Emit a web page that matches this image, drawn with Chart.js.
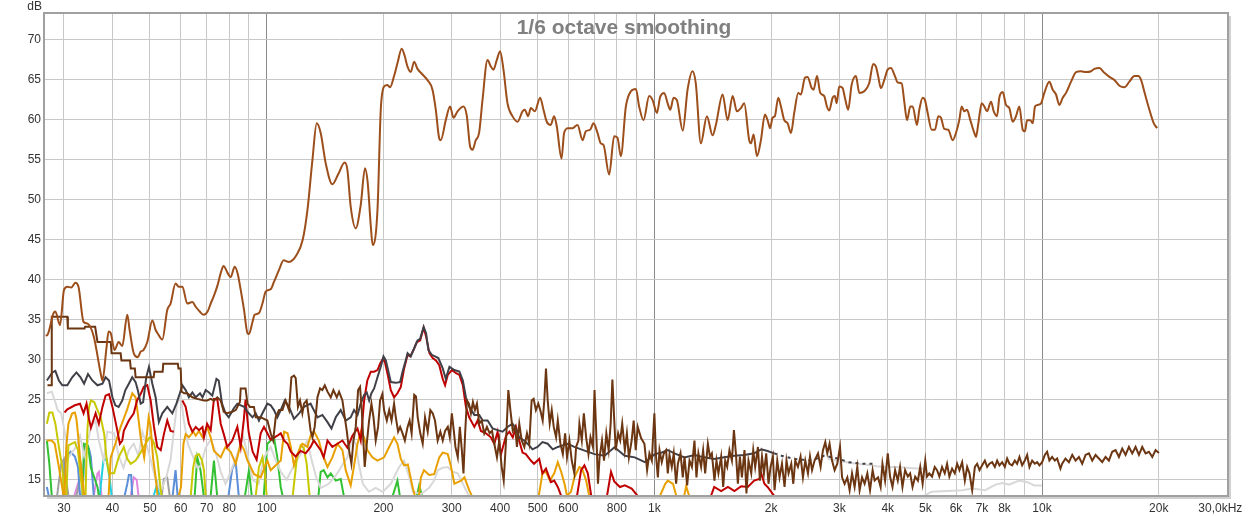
<!DOCTYPE html>
<html><head><meta charset="utf-8">
<script src="https://cdn.jsdelivr.net/npm/chart.js@4.4.0/dist/chart.umd.min.js"></script>
<style>html,body{margin:0;padding:0;background:#fff;}#wrap{width:1249px;height:516px;position:relative;}</style>
</head><body><div id="wrap"><canvas id="c"></canvas></div>
<script>
const xTickValues = [30,40,50,60,70,80,90,100,200,300,400,500,600,700,800,900,1000,2000,3000,4000,5000,6000,7000,8000,9000,10000,20000,30000];
const xTickLabels = ["30","40","50","60","70","80","","100","200","300","400","500","600","","800","","1k","2k","3k","4k","5k","6k","7k","8k","","10k","20k","30,0kHz    "];
const yTickValues = [15,20,25,30,35,40,45,50,55,60,65,70];
const titleText = "1/6 octave smoothing";

// [Hz, dB]
const frResponse = [[26.9,33.0],[27.2,33.1],[28.2,35.8],[28.5,36.0],[29.3,34.3],[30.0,38.7],[30.6,39.1],[31.3,39.0],[32.1,39.6],[32.7,39.1],[33.7,34.7],[34.5,34.5],[35.8,32.9],[37.3,28.3],[37.7,27.4],[38.6,31.4],[39.1,33.5],[39.6,33.3],[40.5,31.2],[41.5,32.2],[42.4,31.7],[43.7,35.6],[44.3,33.7],[45.4,30.8],[46.5,30.3],[47.3,31.0],[48.1,31.2],[49.2,32.2],[50.7,34.9],[51.7,33.7],[52.3,33.3],[53.8,32.5],[55.4,36.2],[56.5,37.0],[58.2,39.5],[59.3,39.1],[60.6,39.1],[62.4,37.0],[64.3,37.2],[65.6,36.6],[67.2,36.0],[68.8,35.6],[70.4,36.0],[71.7,37.0],[73.0,37.9],[74.7,39.3],[76.1,40.8],[77.4,41.7],[79.3,40.8],[80.7,40.3],[82.7,41.6],[84.2,40.7],[85.7,38.7],[87.4,36.2],[89.2,33.3],[90.0,33.2],[91.9,34.7],[93.1,35.6],[95.5,35.8],[97.5,37.0],[99.4,38.5],[102.4,38.8],[104.4,39.7],[107.6,41.2],[110.6,42.4],[114.0,42.2],[119.5,43.1],[123.9,45.0],[127.4,48.7],[131.2,54.9],[134.6,59.5],[137.8,58.3],[142.0,54.5],[147.7,51.9],[152.8,53.1],[158.9,54.6],[161.5,53.7],[164.7,49.1],[169.7,46.4],[174.8,49.3],[179.3,53.9],[182.2,52.1],[185.5,46.8],[187.7,44.3],[193.1,48.7],[196.9,61.2],[200.8,64.1],[204.9,64.3],[208.1,64.0],[213.1,65.4],[217.4,67.0],[223.0,68.8],[227.0,67.9],[230.7,66.6],[235.3,65.9],[240.0,67.2],[244.9,66.3],[252.3,65.6],[259.9,64.9],[267.7,63.7],[273.0,61.2],[278.4,57.7],[281.2,57.4],[289.7,59.9],[297.2,61.6],[303.3,60.2],[310.6,61.0],[321.9,61.6],[328.3,60.4],[334.7,56.6],[339.5,56.2],[346.2,57.4],[353.1,58.3],[360.3,62.4],[371.2,67.4],[378.6,66.6],[384.6,66.2],[392.2,67.4],[400.0,68.5],[408.1,66.2],[418.0,62.0],[430.5,60.4],[443.6,59.7],[457.0,61.0],[463.3,61.2],[472.4,60.4],[480.1,61.4],[491.6,61.0],[507.4,62.7],[517.6,61.2],[527.8,59.7],[540.5,59.3],[551.2,60.4],[560.2,59.1],[576.1,55.1],[585.0,58.3],[599.1,58.9],[615.0,58.9],[633.6,59.3],[652.7,57.4],[665.6,58.5],[682.8,58.7],[696.7,59.5],[713.5,58.3],[727.6,57.0],[739.4,56.8],[764.5,53.1],[787.6,57.9],[803.5,57.7],[819.4,55.4],[844.3,61.6],[869.8,63.5],[896.0,63.8],[913.7,61.6],[937.6,59.9],[969.6,62.9],[989.5,62.4],[1015,60.8],[1035,62.8],[1060,63.3],[1082,62.0],[1099,61.2],[1121,62.7],[1143,62.4],[1184,58.6],[1218,63.7],[1254,66.0],[1279,64.5],[1318,57.0],[1366,60.4],[1413,58.0],[1441,59.3],[1500,63.1],[1545,59.9],[1592,62.9],[1633,61.0],[1672,61.4],[1705,62.0],[1756,57.4],[1774,57.0],[1803,58.1],[1839,55.4],[1883,57.4],[1928,60.6],[1959,59.9],[1989,58.9],[2018,60.2],[2046,60.4],[2087,62.7],[2121,61.6],[2163,59.9],[2207,59.5],[2251,58.3],[2295,60.8],[2350,63.3],[2388,63.1],[2445,65.2],[2485,65.3],[2545,63.9],[2575,63.7],[2627,65.4],[2679,63.3],[2743,62.9],[2787,61.6],[2825,61.1],[2883,62.7],[2922,62.9],[2952,62.0],[2998,64.1],[3060,63.9],[3101,62.7],[3162,61.2],[3227,64.3],[3311,65.4],[3377,63.3],[3477,63.5],[3582,64.5],[3668,66.9],[3727,66.6],[3778,65.4],[3840,63.9],[3917,64.9],[3997,66.2],[4076,66.4],[4174,65.4],[4242,64.6],[4344,64.5],[4412,62.2],[4484,59.9],[4573,61.6],[4638,61.6],[4758,59.3],[4824,61.2],[4922,62.7],[4990,62.4],[5070,60.8],[5191,58.7],[5295,58.7],[5400,60.4],[5487,60.2],[5596,58.8],[5730,58.7],[5882,57.4],[5998,58.3],[6117,59.9],[6205,61.6],[6301,61.0],[6404,61.2],[6531,59.9],[6688,58.3],[6756,57.8],[6850,59.5],[6989,62.0],[7098,61.6],[7213,61.0],[7386,62.2],[7506,61.0],[7654,60.4],[7759,62.7],[7918,63.4],[8074,61.8],[8234,61.4],[8402,59.7],[8568,60.4],[8738,61.6],[8917,58.7],[9039,58.5],[9147,59.9],[9328,59.9],[9462,59.5],[9592,61.6],[9748,61.8],[9940,62.0],[10137,63.3],[10442,64.7],[10656,63.7],[10866,63.1],[11081,61.8],[11308,62.7],[11532,63.3],[11880,64.7],[12239,65.9],[12608,66.0],[12988,65.9],[13383,66.0],[13646,66.3],[14058,66.4],[14482,65.8],[14918,65.3],[15368,64.9],[15831,64.2],[16309,64.0],[16800,64.7],[17307,65.4],[17723,65.4],[18011,64.9],[18443,63.1],[18920,61.2],[19424,59.5],[19808,58.9]];

const noiseFloor = [[27.2,26.8],[27.8,26.8],[27.9,35.35],[30.6,35.35],[30.7,33.9],[33.9,33.9],[34.0,34.1],[36.1,34.1],[36.6,32.2],[39.6,32.2],[39.8,30.8],[42.0,30.8],[42.2,29.9],[44.4,29.9],[44.6,28.9],[45.7,28.9],[45.9,27.8],[51.1,27.8],[51.3,28.5],[53.9,28.5],[54.1,29.5],[59.0,29.5],[59.2,28.9],[60.0,28.9],[60.3,26.0],[61.3,25.8],[62.4,25.8],[64.3,25.3],[66.2,25.1],[68.9,24.9],[70.2,24.9],[71.7,25.1],[73.1,24.9],[74.6,25.3],[76.1,24.9],[77.5,23.5],[79.1,23.3],[81.5,23.5],[83.2,23.7],[85.3,24.7],[85.7,26.4],[88.2,26.4],[89.2,24.5],[90.5,24.1],[92.7,24.1],[93.7,22.8],[96.5,22.8],[98.4,22.6],[100.4,22.4],[102.4,20.8],[103.9,19.9],[105.5,22.8],[107.6,23.7],[109.8,23.7],[111.9,24.9],[114.2,23.7],[115.8,27.8],[117.6,28.0],[118.8,27.7],[120.4,24.1],[121.9,24.9],[123.6,23.3],[124.8,24.5],[126.8,24.9],[128.5,22.8],[129.8,21.1],[131.2,20.3],[133.0,21.6],[135.2,25.3],[137.3,26.4],[139.2,26.2],[141.2,26.8],[143.5,26.0],[146.3,25.3],[148.6,26.2],[151.6,25.3],[153.7,26.0],[156.8,24.9],[159.0,22.8],[160.9,21.1],[163.1,18.7],[165.4,17.0],[167.4,19.9],[169.7,21.6],[172.1,26.2],[174.1,26.6],[175.9,23.7],[177.7,19.5],[179.0,16.6],[181.2,19.5],[183.7,22.4],[186.3,24.5],[188.6,22.8],[191.1,19.9],[193.8,21.6],[196.1,24.9],[198.8,25.7],[200.8,23.7],[204.1,22.4],[207.0,23.7],[209.9,22.4],[213.1,24.5],[215.3,22.8],[218.3,21.0],[220.9,21.6],[224.1,20.8],[227.2,19.9],[230.9,21.6],[233.7,22.4],[236.5,20.8],[240.2,25.6],[242.7,25.4],[245.2,22.8],[249.0,20.8],[252.6,19.5],[256.1,22.8],[260.2,21.0],[264.3,23.7],[268.0,23.3],[271.7,22.4],[276.1,19.9],[280.5,21.0],[284.5,19.9],[288.5,21.1],[293.2,21.6],[296.7,20.3],[300.3,23.3],[303.9,21.1],[306.8,19.1],[311.1,17.8],[314.9,21.6],[318.7,18.7],[321.8,15.8],[325.0,20.8],[328.4,24.9],[332.4,24.5],[336.4,23.3],[340.4,24.7],[344.5,23.7],[348.6,24.5],[353.4,22.0],[358.5,22.4],[364.1,20.8],[369.9,21.6],[375.9,20.8],[381.2,21.1],[386.5,19.5],[392.6,17.8],[398.0,19.9],[403.8,16.6],[408.7,14.9],[414.4,19.9],[420.1,26.2],[425.2,23.7],[431.3,21.1],[437.3,21.6],[442.1,19.1],[448.3,22.0],[454.8,19.9],[461.9,19.1],[469.2,20.8],[475.7,19.5],[482.4,24.9],[488.1,25.1],[494.8,23.7],[501.8,24.5],[507.8,23.7],[515.1,22.4],[520.1,24.9],[525.3,28.9],[530.7,24.9],[537.1,22.0],[543.6,23.7],[550.1,21.6],[557.8,20.3],[563.5,22.4],[572.4,19.5],[580.6,18.2],[588.6,20.8],[595.2,17.8],[603.7,19.9],[612.2,17.4],[621.8,15.8],[628.2,19.1],[636.9,19.9],[640.7,22.0],[649.9,19.9],[657.7,23.3],[666.9,20.3],[676.1,18.2],[684.3,20.3],[694.2,19.1],[700.9,26.2],[709.4,19.9],[715.4,14.5],[722.3,17.8],[732.7,19.9],[741.5,17.4],[751.8,20.8],[762.2,18.7],[771.4,22.0],[779.3,27.5],[787.3,22.8],[795.0,18.7],[806.5,20.8],[816.3,19.9],[826.2,22.0],[839.2,18.7],[849.4,20.8],[859.6,17.8],[873.8,19.9],[884.4,22.4],[895.1,18.7],[905.9,21.6],[924,20.2],[942.6,19.5],[957.8,16.2],[971,18.3],[985,17.4],[1000,23.3],[1010,17.9],[1021,15.3],[1031,18.7],[1045,17.2],[1058,18.3],[1072,18.7],[1083,15.8],[1094,18.1],[1109,16.6],[1122,18.3],[1138,14.5],[1150,17.0],[1168,18.3],[1184,15.3],[1196,17.9],[1215,14.3],[1232,17.4],[1250,16.6],[1269,19.9],[1284,15.3],[1299,18.3],[1320,16.6],[1336,18.7],[1352,15.8],[1374,19.5],[1391,17.9],[1407,18.3],[1429,14.9],[1446,17.4],[1463,15.8],[1487,17.9],[1505,14.1],[1523,17.4],[1541,16.6],[1562,18.7],[1585,17.4],[1604,21.2],[1623,18.3],[1642,14.5],[1662,17.9],[1682,15.3],[1708,18.7],[1728,13.3],[1749,17.4],[1778,15.8],[1799,18.7],[1820,16.6],[1850,19.1],[1872,14.9],[1895,17.9],[1917,15.8],[1943,18.3],[1970,14.5],[1994,16.6],[2022,17.9],[2042,13.7],[2075,17.4],[2103,15.3],[2134,17.0],[2167,14.1],[2192,17.4],[2219,15.8],[2255,17.0],[2282,14.5],[2309,17.4],[2346,16.6],[2383,17.9],[2417,15.3],[2451,17.4],[2490,15.8],[2520,17.9],[2551,16.2],[2590,17.4],[2643,18.3],[2684,16.6],[2722,18.7],[2760,19.7],[2793,18.3],[2831,19.5],[2873,17.4],[2917,16.2],[2964,17.0],[3012,19.1],[3049,15.3],[3095,14.5],[3146,15.3],[3189,13.7],[3235,15.8],[3285,14.1],[3338,16.6],[3384,13.7],[3434,15.3],[3486,14.5],[3543,15.8],[3600,13.7],[3656,16.2],[3700,14.9],[3776,15.3],[3834,14.1],[3876,17.0],[3937,14.9],[4000,18.3],[4055,15.4],[4114,14.1],[4178,16.2],[4245,14.9],[4303,16.6],[4365,14.1],[4434,16.2],[4506,15.4],[4569,15.8],[4634,14.1],[4707,15.4],[4784,14.9],[4850,16.6],[4920,14.5],[4998,17.4],[5049,15.4],[5119,15.8],[5203,15.4],[5287,16.6],[5360,16.2],[5434,15.4],[5522,16.6],[5611,15.8],[5689,17.0],[5767,15.4],[5861,16.4],[5956,15.8],[6039,17.0],[6123,16.2],[6222,17.2],[6322,14.9],[6410,16.6],[6499,15.8],[6604,13.7],[6711,16.6],[6803,17.0],[6897,16.2],[7008,16.8],[7121,17.4],[7219,16.6],[7319,17.0],[7436,17.2],[7556,16.6],[7660,17.4],[7765,16.8],[7891,17.2],[8018,16.6],[8128,17.65],[8240,17.0],[8373,16.8],[8508,17.4],[8625,17.0],[8744,17.85],[8885,16.8],[9028,17.4],[9153,18.1],[9279,16.6],[9429,17.4],[9581,17.0],[9714,17.2],[9847,16.8],[10006,17.2],[10167,18.1],[10306,18.5],[10448,17.4],[10617,17.85],[10789,17.4],[10938,17.65],[11155,16.4],[11269,17.0],[11494,17.65],[11731,17.2],[11965,18.1],[12204,17.4],[12449,17.85],[12697,17.0],[12950,18.1],[13210,18.3],[13474,17.4],[13743,18.1],[14019,17.65],[14298,17.2],[14584,17.85],[14875,17.4],[15173,18.5],[15476,18.7],[15787,17.85],[16102,18.9],[16424,18.1],[16754,19.1],[17088,18.3],[17430,19.1],[17780,18.1],[18135,19.1],[18498,18.3],[18870,18.5],[19246,17.85],[19631,18.7],[20026,18.35]];

const thd = [[27.1,27.4],[28.0,28.4],[28.5,28.6],[29.1,27.4],[29.7,26.8],[30.6,26.8],[31.5,27.8],[32.3,28.4],[33.1,27.8],[33.8,27.0],[34.6,28.2],[35.5,27.4],[36.6,26.8],[37.7,27.0],[38.4,27.8],[39.2,27.4],[40.0,25.3],[40.7,24.3],[41.5,24.1],[42.4,24.9],[43.2,26.2],[44.1,27.0],[45.0,27.8],[45.9,27.2],[46.5,26.2],[47.3,24.5],[48.0,24.7],[48.9,27.8],[49.7,29.1],[50.7,27.0],[51.7,25.3],[52.7,22.2],[53.8,23.3],[55.4,24.1],[57.1,23.3],[58.5,24.5],[59.7,25.8],[60.6,26.8],[61.8,26.2],[63.0,25.3],[64.3,25.9],[65.6,25.3],[67.3,25.8],[68.3,25.3],[69.6,26.2],[71.0,25.9],[72.4,25.5],[74.2,27.6],[75.2,27.4],[76.7,24.5],[78.3,23.3],[79.8,22.8],[82.2,23.9],[84.0,24.5],[85.7,24.3],[87.5,24.1],[89.2,23.5],[91.9,22.8],[93.7,23.3],[95.5,22.4],[97.5,23.3],[100.4,24.5],[102.4,24.3],[104.4,23.7],[106.5,22.8],[108.7,23.7],[111.3,24.9],[114.2,24.1],[117.6,22.6],[121.2,23.3],[124.8,24.1],[129.8,24.5],[132.3,23.7],[135.2,22.8],[139.2,23.1],[143.5,22.2],[146.9,21.4],[150.7,22.8],[155.2,23.7],[160.0,22.4],[164.7,22.8],[168.0,23.7],[171.5,23.1],[174.8,24.5],[178.4,25.6],[181.2,25.9],[183.8,24.9],[186.3,25.8],[189.3,26.4],[193.1,27.8],[196.9,29.1],[200.1,30.4],[202.9,29.9],[205.6,28.7],[209.0,27.2],[215.3,27.1],[220.9,27.2],[224.1,28.5],[227.2,29.5],[230.9,30.8],[235.3,30.4],[240.0,31.4],[244.9,32.4],[248.8,32.6],[254.0,34.1],[257.7,33.3],[261.3,31.2],[266.6,30.6],[271.7,30.4],[277.2,30.2],[284.5,28.9],[289.7,27.6],[296.1,29.1],[304.9,28.7],[314.1,28.5],[320.6,27.4],[326.5,25.3],[332.9,24.1],[343.3,23.1],[353.4,23.1],[360.6,22.4],[371.4,22.4],[382.6,21.4],[394.1,21.2],[405.9,21.0],[418.1,21.6],[430.5,22.0],[439.0,21.4],[447.8,20.3],[461.4,19.9],[475.3,19.3],[484.8,18.8],[499.4,19.1],[514.4,19.7],[530.7,19.5],[546.9,18.8],[563.5,19.1],[580.6,19.3],[597.6,19.5],[621.7,19.1],[647.2,18.8],[700.9,18.2],[744,18.0],[789,19.05],[839,18.0],[890,17.8],[945,17.2],[1003,18.2],[1046,18.4],[1083,18.7],[1127,18.3],[1196,17.8],[1269,18.1],[1345,17.8],[1427,17.6],[1514,17.8],[1609,18.0],[1705,18.1],[1809,18.3],[1887,18.8],[1959,18.6],[2037,18.3],[2128,18.0],[2295,17.6],[2545,17.4],[2743,18.0],[2976,17.65],[3170,17.2],[3444,17.0],[3654,17.0]];

const h2 = [[30.1,23.4],[30.6,23.8],[32.0,24.3],[33.0,24.5],[33.7,23.3],[34.3,24.5],[34.8,22.6],[35.2,21.5],[36.2,23.3],[36.9,22.0],[37.7,24.1],[38.4,25.5],[39.2,25.7],[40.0,24.1],[41.2,21.1],[41.8,19.5],[42.4,19.9],[42.8,21.1],[44.1,22.4],[45.4,23.3],[46.3,24.9],[47.3,25.7],[48.2,26.6],[49.2,26.8],[50.2,24.9],[51.2,21.6],[52.2,19.1],[53.3,18.7],[54.3,20.7],[55.4,22.4],[56.5,21.1],[57.6,21.0],[59,null],[60.6,24.9],[61.8,24.1],[63.0,22.0],[64.3,21.0],[65.6,21.6],[66.9,21.2],[68.3,21.6],[68.9,20.3],[70.2,22.0],[71.7,21.2],[73.1,25.1],[74.6,25.0],[76.1,22.0],[77.5,20.7],[79.1,19.1],[81.5,19.9],[84.0,21.6],[85.7,19.1],[87.3,22.5],[88.2,25.0],[89.8,21.0],[92.0,18.5],[94.2,17.5],[96.5,20.8],[98.4,21.6],[100.4,20.8],[102.4,20.0],[106.5,20.5],[108.7,20.8],[110.9,19.9],[113.2,19.5],[115.4,18.5],[118.8,17.9],[122.3,18.6],[126.1,18.3],[129.8,19.1],[132.3,19.9],[137.8,18.7],[140.3,17.8],[143.5,19.9],[147.7,19.1],[152.2,19.5],[156.8,19.9],[161.5,19.0],[166.4,20.5],[171.5,21.4],[174.8,19.9],[178.4,24.9],[181.8,27.4],[185.6,28.5],[189.3,28.5],[193.1,28.7],[196.1,29.5],[199.3,30.1],[201.8,29.7],[205.0,28.2],[209.0,26.2],[213.1,25.3],[217.4,25.8],[221.8,26.6],[226.2,28.9],[230.9,30.6],[234.5,30.4],[239.2,31.2],[244.0,32.2],[248.9,32.4],[254.0,34.0],[257.7,32.9],[262.9,30.8],[268.0,30.2],[273.3,29.9],[278.7,29.3],[284.5,27.6],[288.5,26.8],[293.2,28.1],[300.3,28.7],[308.0,28.3],[314.1,28.1],[320.6,26.8],[326.5,24.1],[332.9,22.8],[343.3,21.6],[350.0,22.4],[356.9,21.1],[367.7,20.8],[378.6,20.3],[386.5,19.5],[394.1,21.0],[402.1,18.2],[414.4,20.5],[422.6,21.0],[431.3,20.3],[439.6,21.6],[448.1,19.9],[457.0,18.4],[466.0,18.2],[480.1,17.4],[489.2,17.0],[504.6,17.6],[514.4,15.8],[525.3,16.4],[541.0,14.7],[551.7,14.9],[563.5,14.1],[574.9,13.0],[600,null],[631.7,13.0],[647.2,16.2],[660.0,16.8],[673.5,15.8],[687.3,13.0],[720,null],[755,13.0],[773,16.0],[788,14.8],[815,14.1],[839,14.3],[874,13.9],[905,13.0],[1100,null],[1400,13.0],[1427,14.1],[1487,13.6],[1548,14.1],[1609,13.6],[1675,14.2],[1742,14.1],[1809,14.9],[1865,15.1],[1887,15.8],[1922,14.5],[1959,14.1],[2037,13.0]];

const h3 = [[27.1,19.9],[27.9,19.9],[28.4,19.5],[29.1,16.6],[29.7,14.0],[29.9,13.0],[30.1,13.2],[30.4,19.0],[30.8,22.0],[31.5,23.3],[32.0,23.4],[32.3,22.6],[32.6,20.7],[33.0,17.8],[33.6,14.5],[33.8,13.0],[36,null],[39.1,13.0],[39.6,17.8],[40.7,19.5],[42.0,21.6],[43.6,23.7],[45.0,25.8],[45.9,25.3],[46.5,23.3],[47.3,20.3],[48.3,17.8],[49.2,21.1],[49.6,22.8],[50.2,21.6],[50.9,17.8],[51.7,15.3],[52.3,13.0],[55,null],[59.3,13.0],[60.1,14.1],[61.0,19.5],[61.8,20.7],[63.0,20.3],[64.7,21.0],[65.6,20.5],[66.9,21.1],[68.3,20.3],[70.2,21.6],[71.7,20.3],[73.1,18.6],[76.1,17.8],[78.3,19.1],[80.7,18.5],[83.2,17.0],[85.7,19.5],[87.5,18.7],[89.2,17.4],[92.8,15.7],[96.5,15.3],[100.4,17.4],[102.4,16.2],[108.7,17.4],[110.9,21.0],[113.2,20.8],[115.4,19.1],[117.6,16.8],[119.9,18.2],[123.6,19.5],[127.3,19.1],[129.8,20.5],[132.3,21.1],[136.3,19.9],[139.2,18.2],[143.5,16.6],[147.7,17.8],[152.2,19.5],[156.8,18.7],[159.9,16.2],[164.7,14.3],[167.7,16.5],[171.5,19.5],[174.8,21.0],[178.4,20.3],[181.8,18.7],[187.3,17.8],[193.1,17.4],[200.8,17.8],[207.0,19.1],[213.1,20.3],[217.4,19.5],[221.8,17.6],[226.2,16.8],[231.3,16.9],[237.8,14.1],[241.0,13.0],[244,null],[247.1,13.0],[249.9,15.3],[254.5,16.2],[262.4,15.6],[270.3,15.7],[278.7,17.8],[284.5,18.4],[293.2,18.2],[299.0,16.6],[304.9,14.5],[311.1,14.7],[317.4,14.9],[323.7,15.3],[332.9,13.7],[338.2,13.0],[400,null],[503.3,13.0],[514.4,15.8],[525.3,16.0],[538,14.9],[551.7,15.8],[563.5,17.2],[574.9,16.0],[586.4,14.5],[595.2,13.0],[609.5,13.5],[621.7,15.3],[640.7,16.6],[651,16.4],[666.9,14.9],[679,13.0],[850,null],[1034,13.0],[1067,14.5],[1083,14.9],[1117,14.5],[1139,13.0],[1170,null],[1194,13.0],[1208,14.2],[1229,13.0]];

const h4 = [[27.1,22.0],[27.5,23.4],[28.0,23.4],[28.5,22.0],[29.1,19.1],[29.7,16.6],[30.1,13.0],[30.2,null],[30.4,13.0],[30.8,19.3],[32.0,19.7],[32.6,18.7],[33.1,15.5],[33.6,13.0],[33.9,null],[34.1,13.0],[34.3,18.0],[34.5,21.5],[34.8,24.0],[35.2,24.9],[35.9,24.7],[36.6,23.7],[37.3,22.8],[38.1,20.7],[38.6,17.8],[39.2,15.8],[40.4,15.8],[41.5,17.8],[42.8,19.1],[43.7,17.6],[44.6,17.0],[45.9,17.4],[47.3,18.4],[48.7,19.5],[49.7,20.2],[50.2,20.3],[51.2,19.6],[52.2,17.8],[52.8,15.5],[53.3,13.7],[53.6,13.0],[58,null],[63.7,13.0],[64.6,16.5],[65.6,18.0],[66.8,18.2],[68.0,17.5],[68.9,16.2],[69.6,13.0],[80,null],[93.7,13.0],[95.5,16.6],[97.5,17.8],[98.8,16.0],[100,13.0],[110,null],[116.7,13.0],[119.5,17.5],[122.3,19.3],[124.6,19.0],[126.8,17.0],[129.0,13.0]];

const h5 = [[27.1,25.8],[27.9,26.0],[28.4,24.9],[28.9,23.7],[29.5,23.3],[30.1,21.1],[30.8,17.8],[32.1,19.0],[33.0,20.5],[33.8,18.0],[34.5,19.5],[35.2,21.6],[36.2,22.4],[36.9,19.9],[38.0,17.4],[38.8,21.0],[40.4,20.8],[41.5,18.0],[42.7,16.5],[44.1,18.7],[45.4,19.5],[46.7,18.0],[47.8,21.0],[48.9,19.5],[50.2,17.5],[51.7,15.0],[53.3,13.5],[55.2,15.5],[56.5,17.5],[57.6,21.0],[58.7,24.5],[60.1,25.3],[61.1,22.5],[62.6,19.5],[64.4,18.0],[66.3,16.5],[67.5,16.7],[69.6,19.0],[71.7,20.0],[73.8,18.5],[76.1,16.0],[78.3,14.5],[80.7,16.0],[83.7,18.0],[86.9,20.5],[89.4,18.0],[92.0,15.0],[95.3,14.5],[98.4,17.8],[102.4,19.1],[105.4,17.5],[108.7,16.0],[112.6,15.0],[116.7,16.5],[122.3,18.2],[127.3,19.9],[129.8,18.0],[133.8,15.5],[137.8,14.0],[144.6,14.5],[150.7,15.5],[155.2,16.5],[161.5,17.8],[166.4,20.3],[169.7,19.5],[172.8,17.0],[177.0,14.5],[183.5,13.5],[191.1,14.0],[199.2,13.5],[209,14.5],[219.6,16.6],[226.2,17.4],[232.6,15.5],[238.3,13.5],[249.9,13.2],[262.4,14.0],[270.3,14.9],[276.1,16.2],[284.5,16.5],[293.2,16.6],[302.0,16.0],[311.1,15.8],[323.7,14.1],[332.4,13.0]];
const h5Upper = [[2800,17.6],[2956,17.4],[3136,17.2],[3318,17.0],[3520,16.9],[3736,16.7],[3966,16.6],[4210,16.6],[4468,16.5],[4740,16.4],[4975,16.4]];
const h5Lower = [[4957,13.0],[5191,13.5],[5689,13.6],[6222,13.7],[6604,13.9],[7134,13.7],[7586,14.4],[7891,14.6],[8210,14.4],[8730,14.9],[9172,14.7],[9545,14.3],[9988,14.3]];

const h6 = [[27.1,19.9],[27.5,17.0],[27.9,13.0],[30,null],[33.5,13.0],[33.8,19.5],[34.6,19.3],[35.2,16.5],[35.9,15.3],[36.6,14.1],[36.9,13.0],[50,null],[65.2,13.0],[66.2,17.8],[67.5,16.2],[68.8,13.0],[70,null],[71.7,13.0],[73.1,17.4],[74.5,13.0],[80,null],[87.9,13.0],[90.0,16.2],[91.5,13.0],[95,null],[98.3,13.0],[100.4,19.5],[102.4,19.9],[104.4,20.3],[106.5,17.8],[108.7,14.1],[109.9,13.0],[120,null],[136.0,13.0],[137.8,16.0],[140.3,16.2],[143.5,15.3],[146.3,15.8],[150.7,14.9],[155.2,15.1],[158.1,13.0],[180,null],[211.4,13.0],[217.4,14.9],[220.5,13.0],[230,null],[244.0,13.0],[247.4,14.3],[251.6,13.0]];
const h7 = [[27.1,14.1],[27.4,13.0],[28,null],[29.8,13.0],[30.1,17.0],[30.6,18.0],[31.2,18.5],[32.0,17.9],[32.6,16.6],[33.0,13.0],[33.2,null],[33.5,13.0],[33.8,17.8],[34.1,19.1],[34.8,18.9],[35.2,17.8],[35.8,13.0],[40,null],[43.0,13.0],[43.7,14.5],[44.1,15.6],[44.7,15.6],[45.0,13.0],[50,null],[57.2,13.0],[58.2,16.2],[58.9,13.0],[70,null],[79.7,13.0],[81.5,16.4],[83.2,17.2],[84.7,13.0]];
const h8 = [[28.8,13.0],[29.5,17.0],[30.0,17.6],[30.4,15.0],[30.8,13.0],[31,null],[32.3,13.0],[33.0,15.3],[33.2,16.2],[33.7,13.0],[40,null],[53.6,13.0],[54.3,15.1],[55.4,15.3],[56.2,13.0]];
const h9 = [[37.1,13.0],[37.9,17.4],[38.6,17.6],[39.4,15.0],[39.8,13.0],[45,null],[51.1,13.0],[52.2,14.5],[52.9,13.0]];
const h10 = [[31.9,13.0],[32.6,14.5],[33.0,13.0],[34,null],[35.8,13.0],[36.6,15.8],[36.9,16.0],[37.5,13.0],[40,null],[44.6,13.0],[45.4,15.3],[46.2,15.0],[46.7,13.0]];

function pts(a){ return a.map(p => ({x:p[0], y:p[1]})); }
function ds(arr, color, extra){ return Object.assign({data:pts(arr), borderColor:color, backgroundColor:color, borderWidth:2, pointRadius:0, fill:false, tension:0, spanGaps:false}, extra||{}); }

const FONT = '"Liberation Sans", Arial, sans-serif';

const framePlugin = {
  id:'frame',
  afterDraw(chart){
    const {ctx, chartArea:a} = chart;
    ctx.save();
    ctx.fillStyle = '#d0d0d0';
    ctx.fillRect(a.left+2, a.bottom+1, a.right-a.left+2, 3);
    ctx.fillRect(a.right+1, a.top+2, 3, a.bottom-a.top+2);
    ctx.strokeStyle = '#a0a0a0';
    ctx.lineWidth = 2;
    ctx.strokeRect(a.left-1, a.top-1, a.right-a.left+2, a.bottom-a.top+2);
    ctx.font = 'bold 21px ' + FONT;
    ctx.fillStyle = '#808080';
    ctx.textAlign = 'center';
    ctx.textBaseline = 'alphabetic';
    ctx.fillText(titleText, 624, 34);
    ctx.font = '12px ' + FONT;
    ctx.fillStyle = '#333';
    ctx.textAlign = 'right';
    ctx.fillText('dB', 42, 10);
    ctx.restore();
  }
};

new Chart(document.getElementById('c'), {
  type:'line',
  data:{datasets:[
    ds(frResponse, '#9c4e1b', {cubicInterpolationMode:'monotone'}),
    ds(noiseFloor, '#6b3611'),
    ds(thd, '#404048', {segment:{borderDash: c => c.p0.parsed.x >= 2037 ? [3,4] : undefined}}),
    ds(h2, '#c00000'),
    ds(h3, '#e8a000'),
    ds(h4, '#c8c800'),
    ds(h5, '#d8d8d8'),
    ds(h5Upper, '#d8d8d8'),
    ds(h5Lower, '#d8d8d8'),
    ds(h6, '#33c033'),
    ds(h7, '#5b8fd8'),
    ds(h8, '#a0a0a0'),
    ds(h9, '#22d0e0'),
    ds(h10, '#e088e0')
  ]},
  options:{
    responsive:true, maintainAspectRatio:false, animation:false,
    layout:{padding:{left:0, right:22, top:14, bottom:0}},
    plugins:{legend:{display:false}, tooltip:{enabled:false}, title:{display:false}},
    scales:{
      x:{
        type:'logarithmic', min:26.8, max:30000, bounds:'data',
        afterBuildTicks: s => { s.ticks = xTickValues.map(v => ({value:v})); },
        afterFit: s => { s.height = 21; s.paddingLeft = 0; s.paddingRight = 0; },
        ticks:{autoSkip:false, maxRotation:0, minRotation:0, padding:6, color:'#333', font:{family:FONT, size:12},
          callback:(v,i) => xTickLabels[i]},
        grid:{drawTicks:false, lineWidth:1, color: c => {
          const v = c.tick ? c.tick.value : 0;
          if (v === 30000) return 'rgba(0,0,0,0)';
          if (v === 100 || v === 1000 || v === 10000) return '#8a8a8a';
          return '#c8c8c8';
        }},
        border:{display:false}
      },
      y:{
        type:'linear', min:13.1, max:73.15, bounds:'data',
        afterBuildTicks: s => { s.ticks = yTickValues.map(v => ({value:v})); },
        afterFit: s => { s.width = 45; s.paddingTop = 0; s.paddingBottom = 0; },
        ticks:{padding:4, color:'#333', font:{family:FONT, size:12}, callback: v => String(v)},
        grid:{drawTicks:false, color:'#c8c8c8', lineWidth:1},
        border:{display:false}
      }
    }
  },
  plugins:[framePlugin]
});
</script>
</body></html>
